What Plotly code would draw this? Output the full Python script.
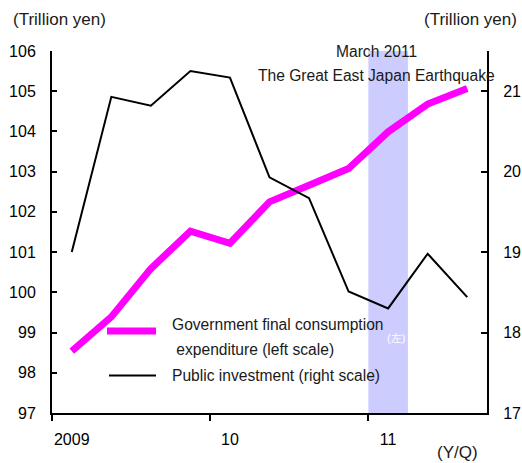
import plotly.graph_objects as go

# Quarterly series, 2009 Q1 – 2011 Q3
quarters = ["2009Q1", "2009Q2", "2009Q3", "2009Q4",
            "2010Q1", "2010Q2", "2010Q3", "2010Q4",
            "2011Q1", "2011Q2", "2011Q3"]
gov_consumption = [98.54, 99.39, 100.59, 101.52, 101.22, 102.25,
                   102.66, 103.08, 103.99, 104.68, 105.07]   # left scale
public_investment = [19.00, 20.93, 20.82, 21.25, 21.17, 19.93,
                     19.67, 18.51, 18.30, 18.98, 18.44]       # right scale

year_labels = ["2009", "10", "11"]
year_starts = [0, 4, 8]          # quarter index where each year begins
quake_quarter = "2011Q1"

# quarters sit at the centre of unit-wide slots on a linear axis
xpos = [i + 0.5 for i in range(len(quarters))]
qi = quarters.index(quake_quarter)

W, H = 522, 463
L, R, T, B = 52, 35, 51, 50
PW, PH = W - L - R, H - T - B


def px(x):
    return (x - L) / PW


def py(y):
    return (H - B - y) / PH


BASE = "Liberation Sans, Arial, sans-serif"

fig = go.Figure()
fig.add_trace(go.Scatter(
    x=xpos, y=public_investment, yaxis="y2", mode="lines",
    line=dict(color="black", width=2), name="Public investment (right scale)",
    hoverinfo="skip"))
fig.add_trace(go.Scatter(
    x=xpos, y=gov_consumption, mode="lines",
    line=dict(color="#ff00ff", width=7),
    name="Government final consumption expenditure (left scale)",
    hoverinfo="skip"))

# earthquake quarter band
fig.add_shape(type="rect", xref="x", yref="paper", x0=qi, x1=qi + 1, y0=0, y1=1,
              fillcolor="#ccccff", line=dict(width=0), layer="below")

# legend keys
fig.add_shape(type="line", xref="paper", yref="paper",
              x0=px(107), x1=px(156), y0=py(331), y1=py(331),
              line=dict(color="#ff00ff", width=7))
fig.add_shape(type="line", xref="paper", yref="paper",
              x0=px(109), x1=px(156), y0=py(375.5), y1=py(375.5),
              line=dict(color="black", width=2))

ann = []


def note(text, x, y, xanchor="left", size=15.6, color="#1a1a1a"):
    ann.append(dict(text=text, xref="paper", yref="paper", x=px(x), y=py(y),
                    xanchor=xanchor, yanchor="middle", showarrow=False,
                    font=dict(family=BASE, size=size, color=color)))


note("(左)", 385, 338, size=11, color="white")
note("Government final consumption", 170, 324)
note(" expenditure (left scale)", 170, 349)
note("Public investment (right scale)", 170, 375.5)
note("March 2011", 376, 51, xanchor="center")
note("The Great East Japan Earthquake", 376, 75, xanchor="center")
note("(Trillion yen)", 11, 20, size=17)
note("(Trillion yen)", 519, 20, xanchor="right", size=17)
note("(Y/Q)", 457, 452, xanchor="center", size=17)

fig.update_layout(
    width=W, height=H,
    margin=dict(l=L, r=R, t=T, b=B, pad=0, autoexpand=False),
    paper_bgcolor="white", plot_bgcolor="white",
    showlegend=False,
    font=dict(family=BASE, size=16, color="black"),
    annotations=ann,
    xaxis=dict(
        range=[0, len(quarters)], showgrid=False, zeroline=False,
        showline=True, linecolor="black", linewidth=2, automargin=False,
        tickmode="array", tickvals=[s + 0.5 for s in year_starts],
        ticktext=year_labels, ticks="", ticklabelstandoff=11,
        minor=dict(tickmode="array", tickvals=year_starts, ticks="outside",
                   ticklen=6, tickwidth=2, tickcolor="black", showgrid=False),
    ),
    yaxis=dict(
        range=[97, 106], dtick=1, showgrid=False, zeroline=False,
        showline=True, linecolor="black", linewidth=2, automargin=False,
        ticks="inside", ticklen=5, tickwidth=2, tickcolor="black",
        ticklabelstandoff=11,
    ),
    yaxis2=dict(
        range=[17, 21.5], tickvals=[17, 18, 19, 20, 21], overlaying="y",
        side="right", showgrid=False, zeroline=False, automargin=False,
        showline=True, linecolor="black", linewidth=2,
        ticks="inside", ticklen=6, tickwidth=2, tickcolor="black",
        ticklabelstandoff=11,
    ),
)

fig.write_html("out.html")
